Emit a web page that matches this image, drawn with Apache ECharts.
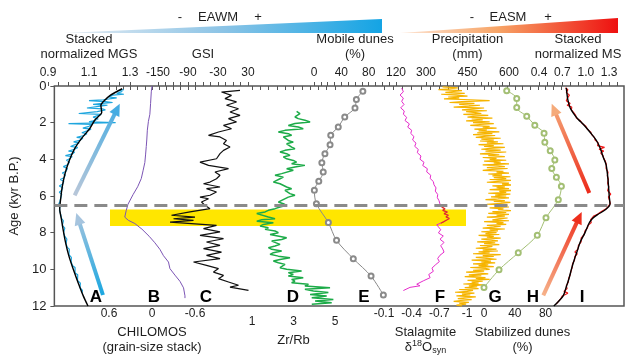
<!DOCTYPE html>
<html><head><meta charset="utf-8">
<script src="https://cdn.jsdelivr.net/npm/echarts@6/dist/echarts.min.js"></script>
<style>html,body{margin:0;padding:0;background:#fff}#c{width:640px;height:360px}</style>
</head><body><div id="c"></div>
<script>
// ---------- DATA: [age (kyr B.P.), value] ----------
const mgsSmooth = [[0.15,1.262],[0.5,1.205],[0.87,1.168],[1.05,1.158],[1.24,1.160],[1.45,1.162],[1.6,1.152],[1.87,1.128],[2.33,1.103],[2.87,1.063],[3.42,1.030],[4.15,1.001],[4.87,0.981],[5.6,0.968],[6.15,0.962],[6.7,0.957],[7.24,0.965],[7.78,0.973],[8.5,0.985],[9.24,1.001],[9.96,1.022],[10.7,1.046],[11.42,1.071],[12.0,1.095]];
const mgsRaw = [[0.2,1.27],[0.25,1.245],[0.3,1.262],[0.4,1.235],[0.45,1.27],[0.5,1.215],[0.6,1.195],[0.65,1.235],[0.75,1.17],[0.8,1.10],[0.85,1.18],[0.9,1.215],[0.95,1.165],[1.0,1.12],[1.05,1.19],[1.1,1.155],[1.2,1.09],[1.25,1.165],[1.3,1.18],[1.4,1.14],[1.5,1.05],[1.55,1.16],[1.6,1.155],[1.7,1.12],[1.8,1.145],[1.9,1.12],[1.95,1.10],[2.0,1.23],[2.05,1.00],[2.1,1.115],[2.2,1.10],[2.3,1.07],[2.35,1.11],[2.45,1.09],[2.55,1.065],[2.6,1.09],[2.7,1.075],[2.8,1.04],[2.85,1.07],[2.95,1.058],[3.05,1.025],[3.1,1.052],[3.2,1.045],[3.3,1.01],[3.35,1.045],[3.45,1.03],[3.55,1.00],[3.6,1.03],[3.7,1.02],[3.8,0.985],[3.85,1.018],[3.95,1.008],[4.05,0.99],[4.15,1.005],[4.3,0.995],[4.4,0.975],[4.5,0.995],[4.65,0.988],[4.75,0.97],[4.85,0.985],[5.0,0.978],[5.1,0.96],[5.2,0.977],[5.35,0.972],[5.45,0.955],[5.55,0.972],[5.7,0.966],[5.8,0.955],[5.9,0.967],[6.1,0.962],[6.3,0.958],[6.45,0.952],[6.6,0.958],[6.8,0.956],[7.0,0.962],[7.2,0.965],[7.35,0.975],[7.45,0.966],[7.6,0.97],[7.75,0.982],[7.85,0.973],[8.0,0.976],[8.2,0.982],[8.35,0.992],[8.45,0.984],[8.6,0.988],[8.8,0.994],[8.9,1.004],[9.0,0.997],[9.2,1.002],[9.35,1.014],[9.45,1.006],[9.6,1.013],[9.8,1.02],[9.9,1.032],[10.0,1.023],[10.2,1.032],[10.3,1.045],[10.4,1.036],[10.6,1.044],[10.75,1.058],[10.85,1.05],[11.0,1.056],[11.15,1.068],[11.3,1.065]];
const chilomos = [[0.0,0.0],[0.33,0.01],[1.0,0.02],[1.6,0.03],[2.0,0.05],[2.5,0.065],[3.0,0.072],[3.42,0.08],[3.9,0.09],[4.33,0.10],[4.8,0.125],[5.24,0.15],[5.7,0.20],[6.15,0.265],[6.69,0.335],[7.05,0.36],[7.42,0.38],[7.6,0.33],[7.78,0.24],[8.1,0.14],[8.5,0.04],[8.87,-0.04],[9.24,-0.11],[9.6,-0.16],[9.96,-0.23],[10.33,-0.25],[10.7,-0.32],[11.05,-0.39],[11.42,-0.44],[11.87,-0.46],[12.0,-0.46]];
const gsi = [[0.24,14],[0.33,-23],[0.51,-3],[0.69,-16],[0.87,7],[1.05,-13],[1.24,11],[1.42,-6],[1.6,14],[1.78,-9],[1.96,7],[2.15,-19],[2.33,-3],[2.51,-29],[2.69,-49],[2.78,-26],[2.97,-13],[3.15,-19],[3.33,-6],[3.51,-19],[3.69,-26],[3.97,-33],[4.15,-66],[4.33,-49],[4.51,-9],[4.69,-36],[4.87,-26],[5.06,-33],[5.24,-46],[5.33,-59],[5.51,-26],[5.6,-53],[5.78,-33],[5.96,-46],[6.06,-66],[6.15,-49],[6.33,-63],[6.51,-56],[6.69,-46],[6.87,-86],[7.05,-123],[7.15,-76],[7.24,-119],[7.33,-79],[7.42,-126],[7.6,-33],[7.78,-59],[7.96,-26],[8.15,-66],[8.33,-19],[8.51,-53],[8.69,-26],[8.87,-59],[9.06,-23],[9.24,-53],[9.42,-26],[9.6,-79],[9.78,-53],[9.96,-29],[10.15,-39],[10.33,-19],[10.51,-29],[10.69,-9],[10.87,11],[10.97,-6],[11.15,31]];
const zrRb = [[1.38,3.15],[1.51,3.31],[1.6,3.39],[1.69,3.07],[1.78,3.23],[1.87,3.55],[1.96,3.80],[2.05,3.07],[2.15,2.75],[2.24,3.23],[2.33,3.47],[2.42,2.59],[2.51,2.27],[2.6,2.75],[2.69,2.91],[2.78,2.51],[2.87,2.43],[2.97,2.75],[3.06,2.99],[3.15,2.67],[3.24,2.59],[3.33,2.91],[3.42,3.07],[3.51,2.59],[3.6,2.35],[3.69,2.67],[3.78,2.83],[3.87,2.51],[3.97,2.67],[4.06,2.99],[4.15,3.15],[4.24,2.91],[4.33,3.55],[4.42,3.07],[4.51,2.67],[4.6,2.99],[4.69,2.91],[4.78,2.43],[4.87,2.11],[4.97,2.51],[5.06,2.35],[5.15,2.19],[5.24,2.03],[5.33,2.35],[5.42,2.27],[5.51,2.67],[5.6,2.91],[5.69,2.59],[5.78,2.51],[5.87,2.83],[5.96,3.07],[6.06,2.75],[6.15,2.67],[6.24,2.43],[6.33,2.27],[6.42,2.51],[6.51,2.67],[6.6,2.35],[6.69,2.11],[6.78,1.79],[6.87,1.63],[6.96,1.23],[7.05,1.31],[7.15,1.79],[7.24,2.11],[7.3,1.47],[7.38,1.23],[7.46,2.03],[7.55,1.55],[7.64,1.39],[7.73,1.79],[7.82,1.63],[7.91,2.11],[8.0,2.27],[8.1,1.87],[8.19,1.95],[8.28,2.67],[8.37,2.43],[8.46,1.95],[8.55,2.03],[8.64,2.35],[8.73,2.11],[8.82,1.79],[8.91,1.95],[9.0,2.43],[9.09,2.03],[9.18,1.87],[9.28,2.27],[9.37,2.83],[9.46,2.35],[9.55,2.03],[9.64,2.27],[9.73,2.59],[9.82,2.51],[9.91,2.35],[10.0,2.67],[10.09,3.39],[10.18,2.75],[10.28,2.99],[10.37,2.75],[10.46,3.47],[10.55,2.91],[10.64,3.07],[10.73,2.91],[10.82,3.72],[10.91,3.55],[11.0,4.76],[11.09,3.55],[11.18,3.96],[11.27,4.68],[11.37,3.8],[11.46,4.60],[11.55,3.88],[11.64,4.92],[11.73,4.04],[11.82,4.84],[11.91,3.88]];
const mobileDunes = [[0.29,71.5],[0.73,62],[1.2,60],[1.69,45],[2.24,35.5],[2.69,24.5],[3.2,23.5],[3.69,16],[4.18,11.5],[4.69,13.5],[5.2,7],[5.69,0.5],[6.42,3.5],[7.45,21],[8.42,33],[9.42,57.5],[10.37,83.5],[11.4,101.5]];
const d18o = [[0.12,-0.292],[0.33,-0.31],[0.51,-0.274],[0.69,-0.31],[0.87,-0.292],[1.05,-0.317],[1.24,-0.281],[1.42,-0.32],[1.6,-0.31],[1.78,-0.346],[1.96,-0.328],[2.15,-0.375],[2.33,-0.357],[2.51,-0.40],[2.69,-0.39],[2.87,-0.425],[3.06,-0.41],[3.24,-0.447],[3.42,-0.433],[3.6,-0.472],[3.78,-0.461],[3.97,-0.501],[4.15,-0.49],[4.33,-0.534],[4.51,-0.52],[4.69,-0.57],[4.87,-0.563],[5.06,-0.607],[5.24,-0.60],[5.42,-0.635],[5.6,-0.642],[5.78,-0.664],[5.96,-0.656],[6.15,-0.682],[6.33,-0.678],[6.51,-0.697],[6.69,-0.707],[6.87,-0.726],[6.96,-0.762],[7.05,-0.737],[7.15,-0.787],[7.24,-0.751],[7.33,-0.797],[7.42,-0.772],[7.51,-0.808],[7.6,-0.78],[7.69,-0.751],[7.78,-0.715],[7.87,-0.672],[7.96,-0.69],[8.15,-0.715],[8.33,-0.69],[8.51,-0.743],[8.69,-0.707],[8.87,-0.751],[9.06,-0.715],[9.24,-0.737],[9.42,-0.751],[9.6,-0.707],[9.78,-0.682],[9.96,-0.70],[10.15,-0.656],[10.33,-0.62],[10.51,-0.635],[10.69,-0.585],[10.87,-0.60],[11.05,-0.526],[11.24,-0.455],[11.33,-0.49],[11.42,-0.382],[11.51,-0.364],[11.6,-0.31]];
const d18oBandPart = [[6.87,-0.726],[6.96,-0.762],[7.05,-0.737],[7.15,-0.787],[7.24,-0.751],[7.33,-0.797],[7.42,-0.772],[7.51,-0.808],[7.6,-0.78],[7.69,-0.751],[7.78,-0.715]];
const precip = [[0.05,360],[0.1,415],[0.15,385],[0.2,345],[0.25,430],[0.3,400],[0.35,370],[0.4,440],[0.45,355],[0.5,410],[0.55,450],[0.6,380],[0.65,420],[0.7,365],[0.75,460],[0.8,530],[0.85,430],[0.9,385],[0.95,475],[1.0,420],
[1.05,495],[1.1,455],[1.15,400],[1.2,510],[1.25,470],[1.3,430],[1.35,520],[1.4,445],[1.45,480],[1.5,500],[1.55,435],[1.6,525],[1.65,470],[1.7,450],[1.75,540],[1.8,465],[1.85,505],[1.9,445],[1.95,530],[2.0,470],
[2.05,545],[2.1,495],[2.15,460],[2.2,530],[2.25,505],[2.3,555],[2.35,475],[2.4,520],[2.45,490],[2.5,565],[2.55,485],[2.6,540],[2.65,470],[2.7,550],[2.75,510],[2.8,480],[2.85,570],[2.9,500],[2.95,545],[3.0,495],
[3.05,560],[3.1,520],[3.15,580],[3.2,490],[3.25,545],[3.3,510],[3.35,585],[3.4,530],[3.45,500],[3.5,570],[3.55,515],[3.6,590],[3.65,540],[3.7,495],[3.75,565],[3.8,525],[3.85,585],[3.9,505],[3.95,555],[4.0,530],
[4.05,590],[4.1,510],[4.15,570],[4.2,545],[4.25,600],[4.3,505],[4.35,560],[4.4,585],[4.45,520],[4.5,595],[4.55,540],[4.6,505],[4.65,580],[4.7,555],[4.75,600],[4.8,525],[4.85,575],[4.9,540],[4.95,605],[5.0,545],
[5.05,590],[5.1,530],[5.15,610],[5.2,560],[5.25,520],[5.3,600],[5.35,575],[5.4,615],[5.45,540],[5.5,585],[5.55,555],[5.6,600],[5.65,530],[5.7,615],[5.75,565],[5.8,590],[5.85,525],[5.9,605],[5.95,550],[6.0,590],
[6.05,535],[6.1,600],[6.15,560],[6.2,515],[6.25,585],[6.3,545],[6.35,605],[6.4,570],[6.45,520],[6.5,595],[6.55,550],[6.6,600],[6.65,530],[6.7,580],[6.75,560],[6.8,610],[6.85,540],[6.9,590],[6.95,525],[7.0,600],
[7.05,555],[7.1,585],[7.15,520],[7.2,595],[7.25,565],[7.3,540],[7.35,600],[7.4,510],[7.45,580],[7.5,555],[7.55,590],[7.6,520],[7.65,570],[7.7,545],[7.75,505],[7.8,585],[7.85,530],[7.9,560],[7.95,500],[8.0,555],
[8.05,515],[8.1,565],[8.15,490],[8.2,545],[8.25,520],[8.3,570],[8.35,500],[8.4,535],[8.45,560],[8.5,485],[8.55,550],[8.6,510],[8.65,565],[8.7,495],[8.75,540],[8.8,520],[8.85,480],[8.9,555],[8.95,505],[9.0,560],
[9.05,490],[9.1,530],[9.15,470],[9.2,570],[9.25,505],[9.3,545],[9.35,480],[9.4,520],[9.45,555],[9.5,465],[9.55,535],[9.6,500],[9.65,550],[9.7,470],[9.75,525],[9.8,490],[9.85,545],[9.9,460],[9.95,515],[10.0,530],
[10.05,470],[10.1,510],[10.15,445],[10.2,495],[10.25,525],[10.3,455],[10.35,500],[10.4,440],[10.45,515],[10.5,480],[10.55,530],[10.6,450],[10.65,505],[10.7,465],[10.75,490],[10.8,435],[10.85,510],[10.9,455],[10.95,485],[11.0,440],
[11.05,490],[11.1,420],[11.15,470],[11.2,450],[11.25,405],[11.3,475],[11.35,430],[11.4,460],[11.45,410],[11.5,480],[11.55,440],[11.6,415],[11.65,465],[11.7,425],[11.75,400],[11.8,455],[11.85,420],[11.9,445],[11.95,410],[12.0,430]];
const stabDunes = [[0.27,29.5],[0.71,42.5],[1.22,42.5],[1.71,55.5],[2.22,66],[2.67,78],[3.18,79],[3.67,86],[4.18,92],[4.67,88],[5.16,94],[5.67,100.5],[6.44,96.5],[7.45,80.5],[8.44,69.2],[9.44,44.5],[10.4,19.5],[11.4,0]];
const msSmooth = [[0.1,0.75],[0.3,0.755],[0.76,0.77],[1.2,0.80],[1.6,0.86],[1.85,0.91],[2.1,0.97],[2.55,1.06],[3.0,1.14],[3.4,1.185],[3.9,1.225],[4.3,1.26],[4.9,1.28],[5.4,1.29],[6.0,1.30],[6.45,1.31],[6.75,1.25],[7.02,1.15],[7.25,1.08],[7.5,1.04],[8.0,0.99],[8.5,0.93],[9.0,0.89],[9.5,0.85],[10.0,0.815],[10.5,0.785],[10.95,0.75],[11.45,0.71],[11.8,0.64],[12.0,0.59]];
const msRaw = [[0.1,0.74],[0.2,0.77],[0.35,0.75],[0.5,0.79],[0.65,0.765],[0.8,0.75],[0.95,0.80],[1.05,0.76],[1.15,0.82],[1.3,0.815],[1.45,0.845],[1.6,0.87],[1.75,0.88],[1.9,0.93],[2.05,0.955],[2.2,1.0],[2.35,1.02],[2.5,1.06],[2.65,1.075],[2.8,1.11],[2.95,1.12],[3.1,1.16],[3.25,1.15],[3.35,1.24],[3.45,1.17],[3.55,1.23],[3.65,1.19],[3.8,1.22],[3.95,1.23],[4.1,1.25],[4.3,1.265],[4.5,1.26],[4.7,1.285],[4.9,1.275],[5.1,1.29],[5.3,1.28],[5.5,1.295],[5.7,1.28],[5.9,1.32],[6.05,1.29],[6.2,1.30],[6.4,1.315],[6.55,1.29],[6.7,1.26],[6.85,1.2],[7.0,1.15],[7.1,1.10],[7.2,1.12],[7.3,1.06],[7.45,1.07],[7.6,1.03],[7.75,1.02],[7.9,0.99],[8.1,0.98],[8.3,0.94],[8.5,0.94],[8.7,0.905],[8.9,0.90],[9.05,0.86],[9.15,0.89],[9.3,0.86],[9.5,0.855],[9.7,0.83],[9.9,0.825],[10.1,0.81],[10.3,0.8],[10.5,0.78],[10.7,0.775],[10.9,0.75],[11.05,0.76],[11.2,0.72],[11.3,0.77],[11.45,0.70],[11.6,0.68],[11.75,0.65],[11.9,0.62]];
const boundaryAge = 6.5;          // dashed line
const bandAges = [6.73, 7.64];     // yellow band
// trend arrows: [tailValue, tailAge, headValue, headAge]
const mgsArrows = [[1.168,11.4,1.038,6.93],[1.030,5.96,1.25,0.97]];
const msArrows = [[1.045,5.84,0.563,0.97],[0.455,11.42,0.947,6.87]];

// ---------- CHART ----------
const FONT = '"Liberation Sans", Arial, Helvetica, sans-serif';
const TXT = '#1e1e1e', TICK = '#555';
const chart = echarts.init(document.getElementById('c'), null, {renderer:'canvas'});
const gbox = (left, width) => ({left, width, top:86, height:220});
function xa(gi, pos, min, max, interval, minorSplit, name, extra) {
  const ax = {
    gridIndex:gi, type:'value', position:pos, min, max, interval,
    axisLine:{show:false},
    axisTick:{show:true, length:4, lineStyle:{color:TICK, width:1}},
    minorTick:{show:minorSplit>0, splitNumber:minorSplit||5, length:4, lineStyle:{color:TICK, width:1}},
    splitLine:{show:false}, minorSplitLine:{show:false},
    axisLabel:{fontSize:12, color:TXT, fontFamily:FONT, margin: pos==='top'?7:10},
    name, nameLocation:'middle', nameGap: pos==='top'?19:22,
    nameTextStyle:{fontSize:13, lineHeight:15, color:TXT, fontFamily:FONT}
  };
  if (extra) {
    if (extra.formatter) ax.axisLabel.formatter = extra.formatter;
    if (extra.inverse) ax.inverse = true;
    if (extra.rich) ax.nameTextStyle.rich = extra.rich;
  }
  return ax;
}
const pick = (list, dec) => v => list.some(t => Math.abs(t - v) < 1e-6) ? v.toFixed(dec) : '';
const hidY = gi => ({gridIndex:gi, type:'value', min:0, max:12, inverse:true, show:false});
const flip = arr => arr.map(p => [p[1], p[0]]);
function line(gi, data, color, width, extra) {
  return Object.assign({type:'line', xAxisIndex:gi, yAxisIndex:gi, data:flip(data), symbol:'none', showSymbol:false,
    clip:false, silent:true, z:3, lineStyle:{color, width}, itemStyle:{color}}, extra || {});
}

const option = {
  animation:false,
  backgroundColor:'#fff',
  textStyle:{fontFamily:FONT},
  grid:[
    {left:48, right:16, top:86, height:220, show:true, borderColor:'#555', borderWidth:1.5, backgroundColor:'transparent'},
    gbox(48,82), gbox(109,86), gbox(158,90), gbox(252,83), gbox(314,82),
    gbox(384,83), gbox(426,83), gbox(484,77), gbox(539,78), gbox(110,356)
  ],
  xAxis:[
    {gridIndex:0, type:'value', min:0, max:1, show:false},
    xa(1,'top',0.9,1.3,0.2,4,'Stacked\nnormalized MGS'),
    xa(2,'bottom',-0.6,0.6,0.6,6,'CHILOMOS\n(grain-size stack)',{inverse:true}),
    xa(3,'top',-150,30,60,4,'GSI'),
    xa(4,'bottom',1,5,2,5,'Zr/Rb'),
    xa(5,'top',0,120,40,4,'Mobile dunes\n(%)'),
    xa(6,'bottom',-1,-0.1,0.3,3,'Stalagmite\n{d|δ}{sup|18}{d|O}{sub|syn}',{inverse:true,
      rich:{d:{fontSize:13,color:TXT,fontFamily:FONT}, sup:{fontSize:9,color:TXT,fontFamily:FONT,padding:[0,0,7,0]}, sub:{fontSize:9,color:TXT,fontFamily:FONT,padding:[7,0,0,0]}}}),
    xa(7,'top',300,600,150,6,'Precipitation\n(mm)'),
    xa(8,'bottom',0,100,10,0,'Stabilized dunes\n(%)',{formatter:pick([0,40,80],0)}),
    xa(9,'top',0.4,1.4,0.1,0,'Stacked\nnormalized MS',{formatter:pick([0.4,0.7,1.0,1.3],1)}),
    {gridIndex:10, type:'value', min:0, max:1, show:false}
  ],
  yAxis:[
    {gridIndex:0, type:'value', min:0, max:12, interval:2, inverse:true,
     axisLine:{show:false}, axisTick:{show:true, length:4, lineStyle:{color:TICK}}, splitLine:{show:false},
     axisLabel:{fontSize:13, color:TXT, fontFamily:FONT, margin:8},
     name:'Age (kyr B.P.)', nameLocation:'middle', nameGap:31, nameTextStyle:{fontSize:13, color:TXT, fontFamily:FONT}},
    hidY(1),hidY(2),hidY(3),hidY(4),hidY(5),hidY(6),hidY(7),hidY(8),hidY(9),hidY(10)
  ],
  series:[
    {type:'line', xAxisIndex:10, yAxisIndex:10, data:[], z:1, silent:true,
     markArea:{silent:true, itemStyle:{color:'#ffe600', opacity:1}, data:[[{yAxis:bandAges[0]},{yAxis:bandAges[1]}]]}},
    line(1, mgsRaw, '#1ea6de', 1.2),
    line(1, mgsSmooth, '#000', 1.4, {smooth:0.3, z:4}),
    line(2, chilomos, '#7c55b5', 1),
    line(3, gsi, '#111', 1.2),
    line(4, zrRb, '#1cab48', 1.5),
    line(5, mobileDunes, '#8a8a8a', 1, {symbol:'emptyCircle', showSymbol:true, symbolSize:5, smooth:0.3}),
    line(6, d18o, '#e62ccc', 1),
    line(6, d18oBandPart, '#e0341c', 1.2, {z:4}),
    line(7, precip, '#f6b400', 1.2),
    line(8, stabDunes, '#a3bf74', 1, {symbol:'emptyCircle', showSymbol:true, symbolSize:5, smooth:0.3}),
    line(9, msRaw, '#f01818', 1.2),
    line(9, msSmooth, '#000', 1.4, {smooth:0.3, z:4}),
    {type:'line', xAxisIndex:0, yAxisIndex:0, data:[], z:10, silent:true,
     markLine:{silent:true, symbol:['none','none'], label:{show:false},
       lineStyle:{color:'#8a8a8a', width:3, type:[13,7]}, data:[{yAxis:boundaryAge}]}}
  ]
};
chart.setOption(option);

// ---------- annotations ----------
function arrow(p1, p2, c1, c2) {
  const dx = p2[0]-p1[0], dy = p2[1]-p1[1], L = Math.hypot(dx,dy), ux = dx/L, uy = dy/L;
  const hl = 12, hw = 5.5, bx = p2[0]-ux*hl, by = p2[1]-uy*hl;
  const grad = {type:'linear', x:p1[0], y:p1[1], x2:p2[0], y2:p2[1], global:true,
    colorStops:[{offset:0,color:c1},{offset:1,color:c2}]};
  return [
    {type:'line', silent:true, z:20, shape:{x1:p1[0], y1:p1[1], x2:bx+ux, y2:by+uy}, style:{stroke:grad, lineWidth:4}},
    {type:'polygon', silent:true, z:20, shape:{points:[[p2[0],p2[1]],[bx-uy*hw,by+ux*hw],[bx+uy*hw,by-ux*hw]]}, style:{fill:c2}}
  ];
}
const px = (gi, v, age) => chart.convertToPixel({xAxisIndex:gi, yAxisIndex:gi}, [v, age]);
const txt = (t, x, y, font, fill) => ({type:'text', x, y, silent:true, z:30,
  style:{text:t, font, fill: fill || TXT, textAlign:'center', textVerticalAlign:'middle', verticalAlign:'middle'}});
const g = [];
g.push({type:'polygon', silent:true, shape:{points:[[63,33],[382,19],[382,33]]},
  style:{fill:{type:'linear', x:0, y:0, x2:1, y2:0, colorStops:[{offset:0,color:'#e8edf3'},{offset:0.5,color:'#8cc4e6'},{offset:1,color:'#14a4e4'}]}}});
g.push({type:'polygon', silent:true, shape:{points:[[400,33],[618,18],[618,33]]},
  style:{fill:{type:'linear', x:0, y:0, x2:1, y2:0, colorStops:[{offset:0,color:'#fde6d6'},{offset:0.45,color:'#f7a466'},{offset:1,color:'#ee1010'}]}}});
const f13 = '13px ' + FONT;
g.push(txt('-',180,17,f13), txt('EAWM',218,17,f13), txt('+',258,17,f13));
g.push(txt('-',472,17,f13), txt('EASM',508,17,f13), txt('+',548,17,f13));
const fb = 'bold 17px ' + FONT;
[['A',96],['B',154],['C',206],['D',293],['E',364],['F',440],['G',495],['H',533],['I',582]]
  .forEach(([t,x]) => g.push(txt(t, x, 297, fb, '#000')));
const aColors = [['#1ba7e0','#a6c4de'],['#b9c7d9','#45ace2']];
mgsArrows.forEach((a,i) => g.push(...arrow(px(1,a[0],a[1]), px(1,a[2],a[3]), aColors[i][0], aColors[i][1])));
const iColors = [['#ec2a1a','#f5aa7a'],['#f6b28a','#ee2e1c']];
msArrows.forEach((a,i) => g.push(...arrow(px(9,a[0],a[1]), px(9,a[2],a[3]), iColors[i][0], iColors[i][1])));
chart.setOption({graphic:g});
</script></body></html>
